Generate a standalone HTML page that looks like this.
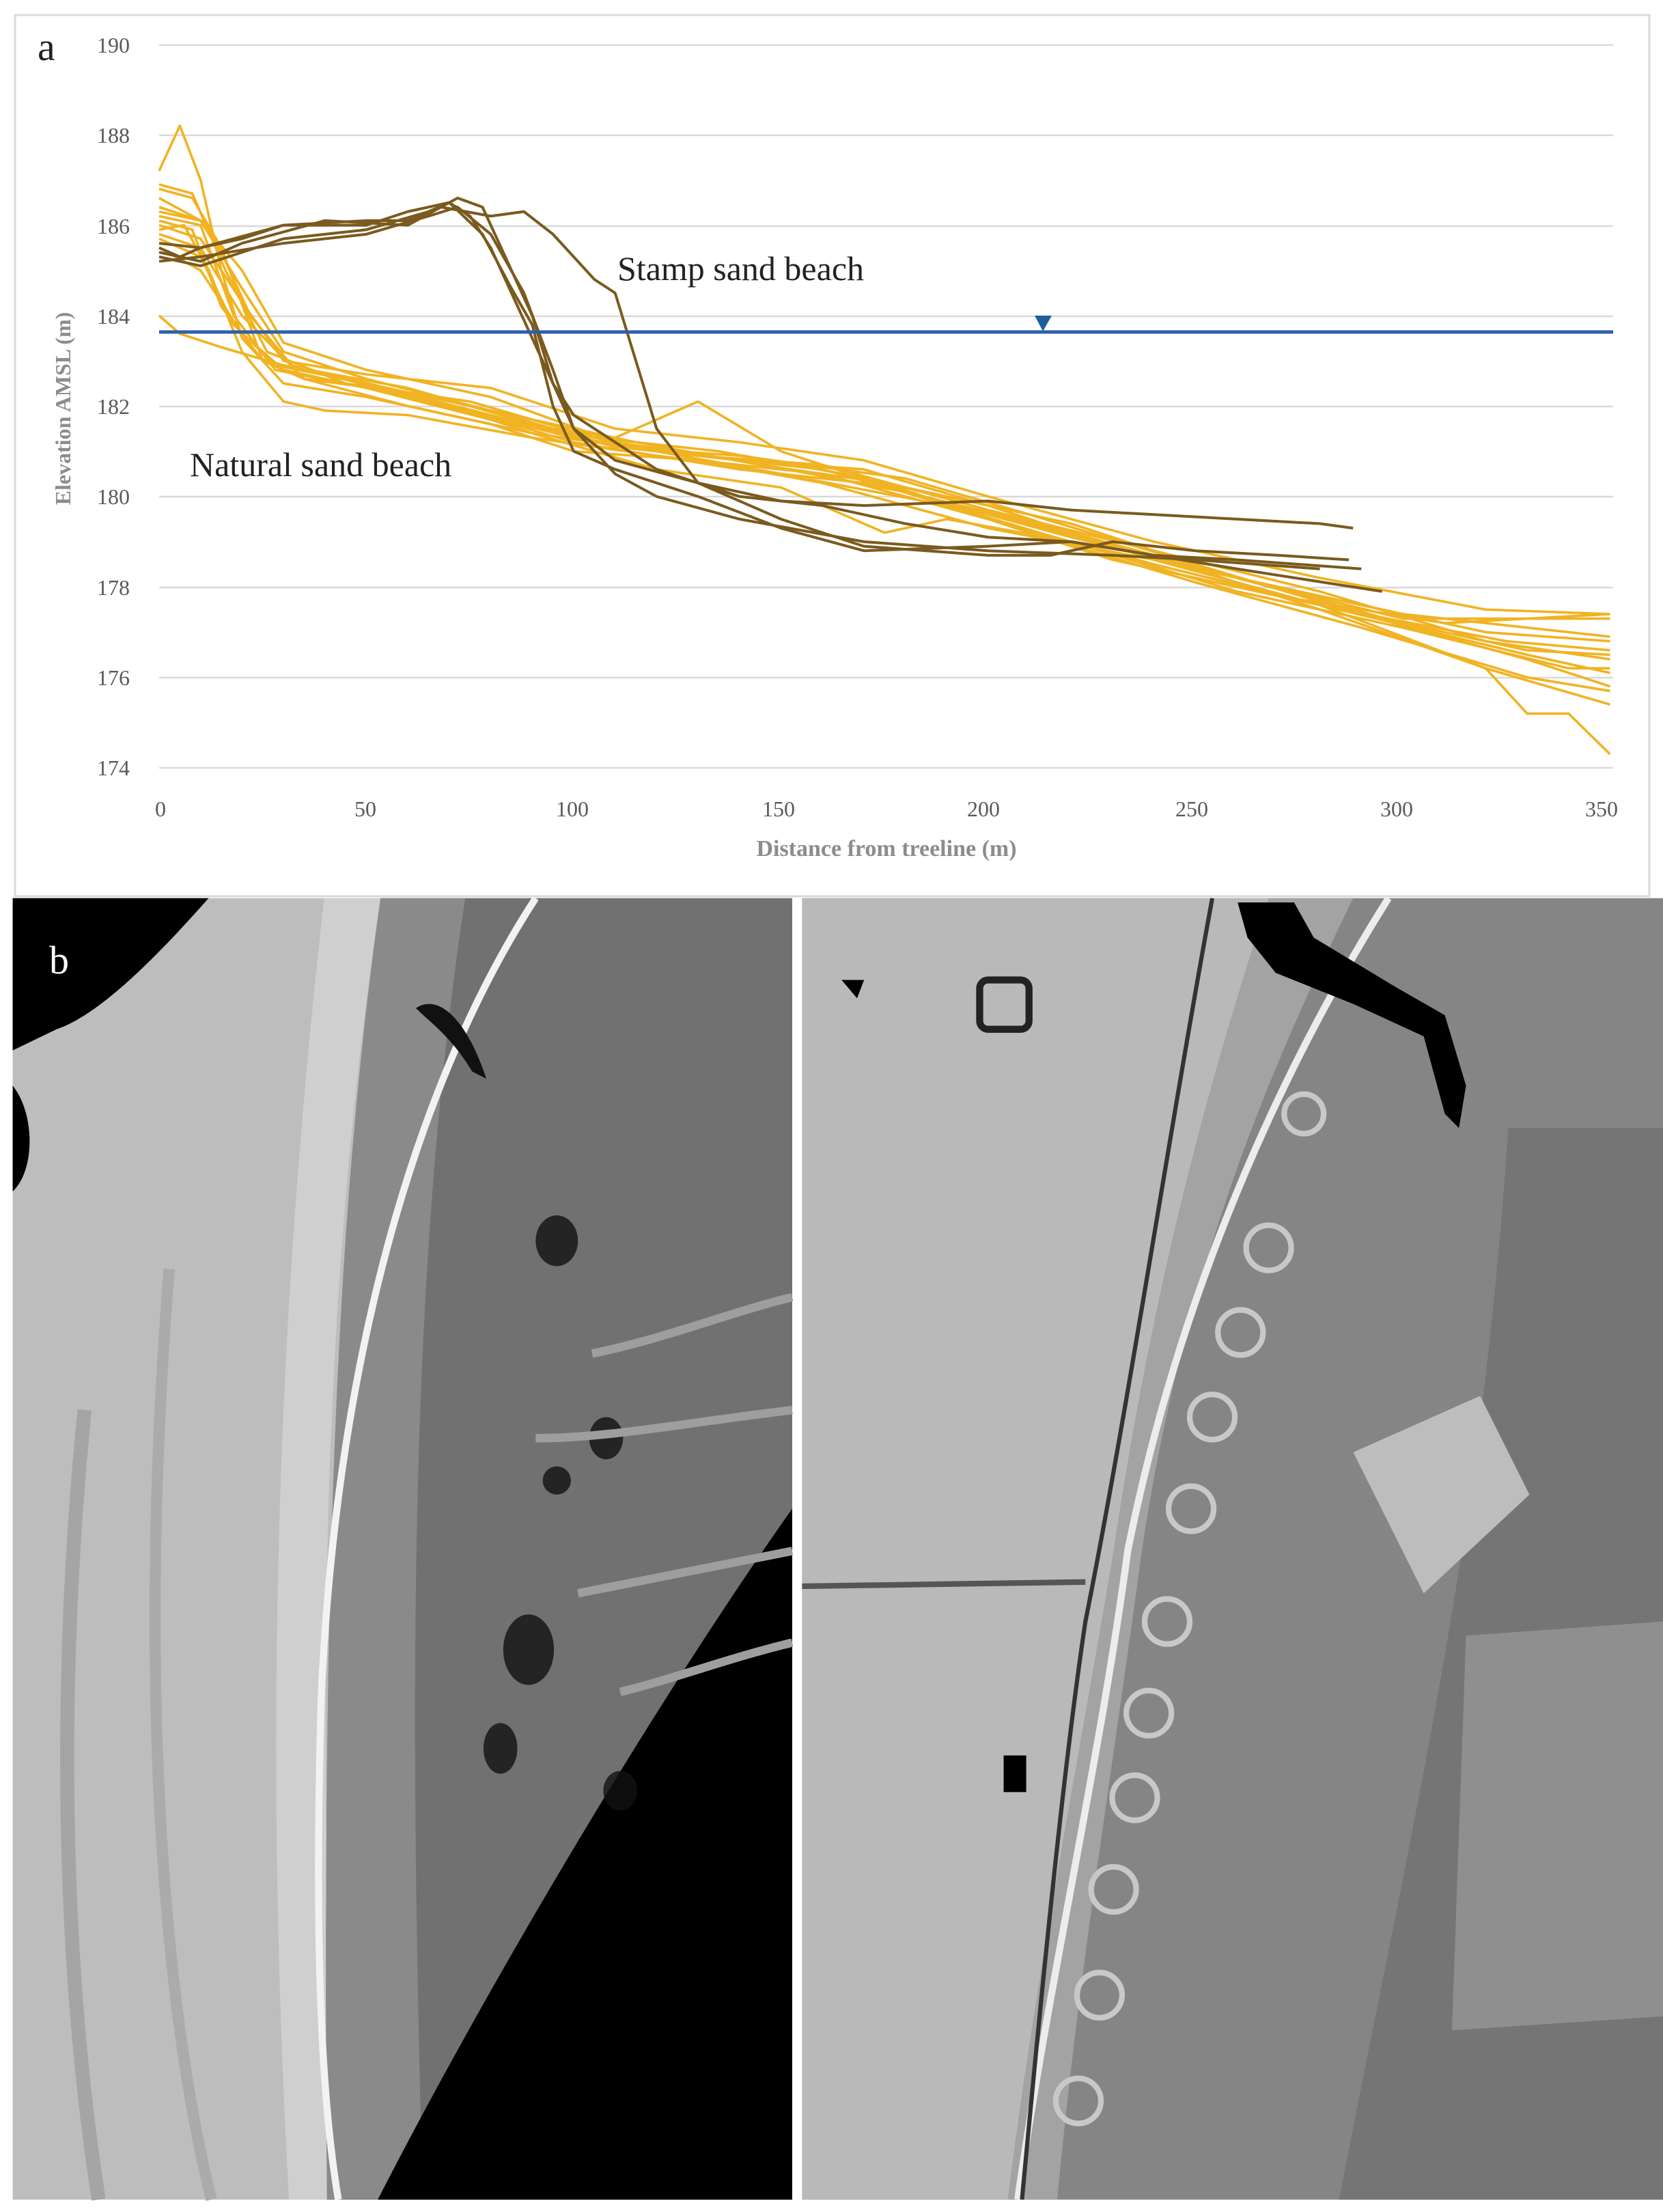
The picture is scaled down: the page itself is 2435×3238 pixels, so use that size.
<!DOCTYPE html>
<html><head><meta charset="utf-8"><style>
html,body{margin:0;padding:0;background:#fff;}
svg{display:block;}
</style></head><body>
<svg width="2435" height="3238" viewBox="0 0 2435 3238" xmlns="http://www.w3.org/2000/svg">
<rect x="0" y="0" width="2435" height="3238" fill="#fff"/>
<rect x="22" y="22" width="2393" height="1290" fill="#fff" stroke="#d9d9d9" stroke-width="3"/>
<g stroke="#d9d9d9" stroke-width="2.5">
<line x1="233" x2="2362" y1="66" y2="66"/><line x1="233" x2="2362" y1="198" y2="198"/>
<line x1="233" x2="2362" y1="331" y2="331"/><line x1="233" x2="2362" y1="463" y2="463"/>
<line x1="233" x2="2362" y1="595" y2="595"/><line x1="233" x2="2362" y1="727" y2="727"/>
<line x1="233" x2="2362" y1="860" y2="860"/><line x1="233" x2="2362" y1="992" y2="992"/>
<line x1="233" x2="2362" y1="1124" y2="1124"/>
</g>
<g font-family="Liberation Serif, serif" font-size="32" fill="#595959" text-anchor="end">
<text x="190" y="77">190</text><text x="190" y="209">188</text><text x="190" y="342">186</text>
<text x="190" y="474">184</text><text x="190" y="606">182</text><text x="190" y="738">180</text>
<text x="190" y="871">178</text><text x="190" y="1003">176</text><text x="190" y="1135">174</text>
</g>
<g font-family="Liberation Serif, serif" font-size="32" fill="#595959" text-anchor="middle">
<text x="235" y="1195">0</text><text x="535" y="1195">50</text><text x="838" y="1195">100</text>
<text x="1140" y="1195">150</text><text x="1440" y="1195">200</text><text x="1745" y="1195">250</text>
<text x="2045" y="1195">300</text><text x="2345" y="1195">350</text>
</g>
<text x="1298" y="1253" font-family="Liberation Serif, serif" font-size="34" font-weight="bold" fill="#8c8c8c" text-anchor="middle">Distance from treeline (m)</text>
<text transform="translate(103,598) rotate(-90)" font-family="Liberation Serif, serif" font-size="32" font-weight="bold" fill="#8c8c8c" text-anchor="middle">Elevation AMSL (m)</text>
<text x="55" y="88" font-family="Liberation Serif, serif" font-size="58" fill="#222">a</text>
<g transform="translate(233,1124) scale(6.07,-66.2)" fill="none" stroke-linejoin="round">
<g stroke="#F0B323" stroke-width="3.6">
<polyline vector-effect="non-scaling-stroke" points="0,13.2 5,14.2 10,13 15,11 20,9.5 30,8.5 50,8.2 80,7.6 100,7 130,6.8 160,6.3 200,5.3 240,4.6 280,3.6 320,2.2 330,1.2 340,1.2 350,0.3"/>
<polyline vector-effect="non-scaling-stroke" points="0,12.8 8,12.6 15,11.5 25,9 35,8.6 60,8.3 90,7.4 120,7 150,6.5 190,5.8 230,4.6 270,3.8 310,3.2 350,3.4"/>
<polyline vector-effect="non-scaling-stroke" points="0,12.2 10,12 18,10 28,8.8 50,8.4 80,7.7 110,7.3 130,8.1 150,7 180,6.1 220,5.2 260,4.2 300,3.3 350,3.3"/>
<polyline vector-effect="non-scaling-stroke" points="0,12.4 10,12.1 20,11 30,9.4 50,8.8 80,8.2 110,7.2 140,6.8 170,6.6 200,5.8 240,4.6 280,3.8 320,3 350,2.8"/>
<polyline vector-effect="non-scaling-stroke" points="0,12.1 8,11.9 15,10.2 25,9 40,8.7 70,8 100,7.2 140,6.6 180,6.2 220,5.4 260,4.2 300,3.2 330,2.6 350,2.5"/>
<polyline vector-effect="non-scaling-stroke" points="0,10 5,9.6 15,9.3 30,8.9 60,8.4 90,7.6 120,7 160,6.6 200,5.6 240,4.7 280,3.5 320,2.2 350,1.4"/>
<polyline vector-effect="non-scaling-stroke" points="0,11.9 6,12 12,11 20,9.2 30,8.1 40,7.9 60,7.8 90,7.3 120,6.9 160,6.5 200,5.5 240,4.5 280,3.6 330,2.5 350,2.1"/>
<polyline vector-effect="non-scaling-stroke" points="0,12.3 10,12.1 20,10.6 30,9.2 50,8.6 80,7.9 110,7.1 140,6.9 180,6.4 210,5.6 250,4.5 290,3.4 330,2.4 350,1.8"/>
<polyline vector-effect="non-scaling-stroke" points="0,11.8 10,11.5 20,10 35,8.6 60,8 90,7.4 120,6.6 150,6.2 175,5.2 190,5.5 220,5 260,3.9 300,3.1 340,2.2 350,2.2"/>
<polyline vector-effect="non-scaling-stroke" points="0,12 10,11.7 20,10.3 30,9 50,8.7 80,8.4 110,7.5 140,7.2 170,6.8 200,6 240,5 280,4.2 320,3.5 350,3.4"/>
<polyline vector-effect="non-scaling-stroke" points="0,12.6 12,12 22,10 32,8.9 55,8.4 85,7.8 115,7.2 145,6.7 175,6.3 210,5.2 250,4.1 290,3.1 330,2 350,1.7"/>
<polyline vector-effect="non-scaling-stroke" points="0,11.5 10,11 20,9.6 30,8.8 60,8.2 100,7.3 130,6.9 160,6.7 200,5.7 240,4.8 280,3.9 320,2.8 350,2.4"/>
<polyline vector-effect="non-scaling-stroke" points="0,12.9 8,12.7 16,11 26,9.2 45,8.5 75,8.1 105,7.3 135,7 165,6.5 205,5.4 245,4.3 285,3.5 325,2.8 350,2.6"/>
<polyline vector-effect="non-scaling-stroke" points="0,11.7 10,11.3 18,9.8 28,8.9 50,8.5 80,7.8 110,7.1 140,6.8 180,6.1 220,5.1 260,4.2 300,3.4 350,2.9"/>
</g>
<g stroke="#7A5A1E" stroke-width="4">
<polyline vector-effect="non-scaling-stroke" points="0,11.5 5,11.3 10,11.5 20,11.7 30,12 40,12 50,12 60,12.3 70,12.5 75,12.2 80,11.5 85,10.5 90,9.5 95,8.5 100,7.8 110,7.2 120,6.6 130,6.3 150,5.9 170,5.8 200,5.9 220,5.7 240,5.6 260,5.5 280,5.4 288,5.3"/>
<polyline vector-effect="non-scaling-stroke" points="0,11.4 10,11.2 20,11.6 40,12.1 60,12 72,12.6 78,12.4 85,11 90,10 95,8.5 100,7.5 110,6.8 130,6.3 150,5.5 170,4.9 200,4.7 215,4.7 230,5 250,4.8 270,4.7 287,4.6"/>
<polyline vector-effect="non-scaling-stroke" points="0,11.3 10,11.1 30,11.7 50,11.9 65,12.3 70,12.5 78,11.8 85,10.6 90,9.8 95,8 100,7 110,6.6 130,6 150,5.3 170,4.8 200,4.9 220,5 240,4.7 260,4.6 290,4.4"/>
<polyline vector-effect="non-scaling-stroke" points="0,11.6 10,11.5 30,12 50,12.1 60,12.1 68,12.4 80,12.2 88,12.3 95,11.8 105,10.8 110,10.5 115,9 120,7.5 130,6.3 140,6 160,5.8 180,5.4 200,5.1 220,5 240,4.7 260,4.4 295,3.9"/>
<polyline vector-effect="non-scaling-stroke" points="0,11.2 10,11.3 30,11.6 50,11.8 65,12.2 72,12.4 80,11.8 88,10.5 95,8.8 100,7.5 110,6.5 120,6 140,5.5 170,5 200,4.8 230,4.7 250,4.6 280,4.4"/>
</g>
</g>
<line x1="233" x2="2362" y1="486" y2="486" stroke="#2E5FA8" stroke-width="5"/>
<polygon points="1515,462 1540,462 1527,485" fill="#1F5E9E"/>
<g font-family="Liberation Serif, serif" font-size="50" fill="#222">
<text x="904" y="410">Stamp sand beach</text>
<text x="278" y="697">Natural sand beach</text>
</g>

<g transform="scale(2.064)">
<rect x="9" y="637" width="553" height="923" fill="#bdbdbd"/>
<path d="M230,637 C200,900 185,1200 205,1560 L240,1560 C222,1200 230,900 270,637 Z" fill="#cfcfcf"/>
<path d="M270,637 C240,850 228,1100 232,1560 L562,1560 L562,637 Z" fill="#717171"/>
<path d="M270,637 C240,850 228,1100 232,1560 L300,1560 C290,1200 290,900 330,637 Z" fill="#8a8a8a"/>
<path d="M380,637 C300,760 240,950 228,1200 C222,1400 230,1500 240,1560" fill="none" stroke="#f2f2f2" stroke-width="5"/>
<path d="M60,1000 C40,1200 45,1400 70,1560" fill="none" stroke="#a5a5a5" stroke-width="10"/>
<path d="M120,900 C100,1150 110,1400 150,1560" fill="none" stroke="#ababab" stroke-width="8"/>
<path d="M9,637 L148,637 C110,680 70,720 40,730 L9,745 Z" fill="#000"/>
<path d="M9,770 C25,790 25,830 9,845 Z" fill="#000"/>
<path d="M562,1070 L562,1560 L268,1560 C350,1400 470,1200 562,1070 Z" fill="#000"/>
<path d="M295,715 C310,705 330,720 345,765 L335,760 C320,735 305,725 295,715 Z" fill="#111"/>
<g fill="#111" opacity="0.8">
<ellipse cx="395" cy="880" rx="15" ry="18"/><ellipse cx="430" cy="1020" rx="12" ry="15"/>
<ellipse cx="375" cy="1170" rx="18" ry="25"/><ellipse cx="355" cy="1240" rx="12" ry="18"/>
<ellipse cx="440" cy="1270" rx="12" ry="14"/><ellipse cx="395" cy="1050" rx="10" ry="10"/>
</g>
<g stroke="#9e9e9e" stroke-width="6" fill="none">
<path d="M380,1020 C430,1020 480,1010 562,1000"/><path d="M410,1130 C460,1120 510,1110 562,1100"/>
<path d="M440,1200 C480,1190 520,1175 562,1165"/><path d="M420,960 C470,950 520,930 562,920"/>
</g>
</g>
<g transform="scale(2.064)">
<rect x="569" y="637" width="611" height="923" fill="#858585"/>
<path d="M569,637 L900,637 C860,760 820,900 790,1100 C765,1250 735,1400 715,1560 L569,1560 Z" fill="#b9b9b9"/>
<path d="M900,637 L960,637 C900,760 840,900 810,1100 C790,1250 765,1400 750,1560 L715,1560 C735,1400 765,1250 790,1100 C820,900 860,760 900,637 Z" fill="#a3a3a3"/>
<path d="M985,637 C920,740 840,900 800,1100 C780,1250 745,1400 722,1560" fill="none" stroke="#ececec" stroke-width="5"/>
<path d="M860,637 C830,800 800,1000 770,1150 C755,1250 740,1400 725,1560" fill="none" stroke="#333" stroke-width="3"/>
<path d="M1070,800 L1180,800 L1180,1560 L950,1560 C1000,1300 1050,1100 1070,800 Z" fill="#757575"/>
<polygon points="878,640 918,640 932,665 990,700 1025,720 1040,770 1035,800 1025,790 1010,735 960,712 905,690 885,665" fill="#000"/>
<line x1="569" y1="1125" x2="770" y2="1122" stroke="#555" stroke-width="4"/>
<rect x="695" y="695" width="35" height="35" rx="6" fill="none" stroke="#222" stroke-width="5"/>
<path d="M597,695 L613,695 L608,708 Z" fill="#000"/>
<rect x="712" y="1245" width="16" height="26" fill="#000"/>
<g fill="none" stroke="#c8c8c8" stroke-width="4">
<circle cx="925" cy="790" r="14"/><circle cx="900" cy="885" r="16"/><circle cx="880" cy="945" r="16"/>
<circle cx="860" cy="1005" r="16"/><circle cx="845" cy="1070" r="16"/><circle cx="828" cy="1150" r="16"/>
<circle cx="815" cy="1215" r="16"/><circle cx="805" cy="1275" r="16"/><circle cx="790" cy="1340" r="16"/>
<circle cx="780" cy="1415" r="16"/><circle cx="765" cy="1490" r="16"/>
</g>
<path d="M960,1030 L1050,990 L1085,1060 L1010,1130 Z" fill="#bdbdbd"/>
<path d="M1040,1160 L1180,1150 L1180,1430 L1030,1440 Z" fill="#9a9a9a" opacity="0.7"/>
</g>
<text x="72" y="1425" font-family="Liberation Serif, serif" font-size="58" fill="#fff">b</text>
</svg>
</body></html>
